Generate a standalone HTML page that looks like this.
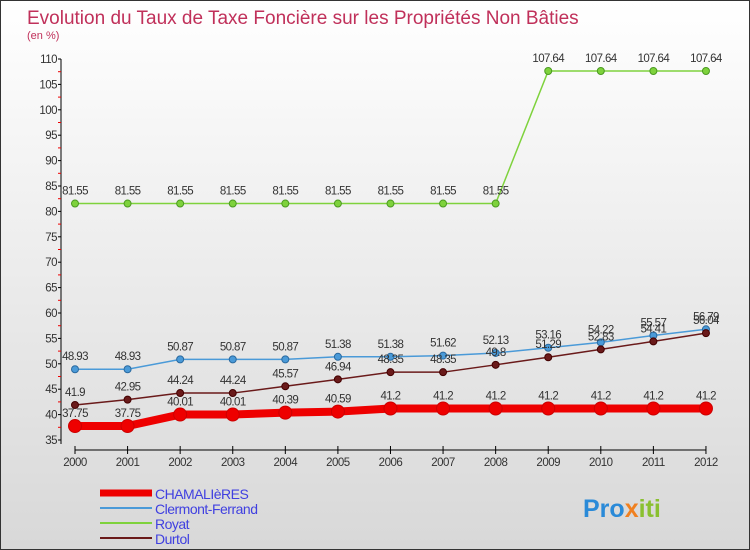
<!DOCTYPE html>
<html><head><meta charset="utf-8"><style>
body{margin:0;width:750px;height:550px;overflow:hidden;font-family:"Liberation Sans",sans-serif}
#wrap{position:absolute;left:0;top:0;width:748px;height:548px;border:1px solid #333;background:linear-gradient(#fff,#d8d8d8)}
</style></head><body>
<div id="wrap">
<svg id="chart" width="750" height="550" style="position:absolute;left:-1px;top:-1px"></svg>
</div>
<script>
const years=[2000,2001,2002,2003,2004,2005,2006,2007,2008,2009,2010,2011,2012];
const chamalieres=[37.75,37.75,40.01,40.01,40.39,40.59,41.2,41.2,41.2,41.2,41.2,41.2,41.2];
const clermont=[48.93,48.93,50.87,50.87,50.87,51.38,51.38,51.62,52.13,53.16,54.22,55.57,56.79];
const royat=[81.55,81.55,81.55,81.55,81.55,81.55,81.55,81.55,81.55,107.64,107.64,107.64,107.64];
const durtol=[41.9,42.95,44.24,44.24,45.57,46.94,48.35,48.35,49.8,51.29,52.83,54.41,56.04];
const yTicks=[35,40,45,50,55,60,65,70,75,80,85,90,95,100,105,110];
const NS="http://www.w3.org/2000/svg";
const svg=document.getElementById('chart');
const X=i=>75+i*52.58;
const Y=v=>440-(v-35)*(381/75);
function mk(t,a,p){const e=document.createElementNS(NS,t);for(const k in a)e.setAttribute(k,a[k]);(p||svg).appendChild(e);return e;}
let t=mk('text',{x:27,y:24,fill:'#c0305a','font-size':19});t.textContent='Evolution du Taux de Taxe Foncière sur les Propriétés Non Bâties';


t=mk('text',{x:27,y:39,fill:'#c0305a','font-size':11});t.textContent='(en %)';


let a=mk('line',{x1:61,y1:Y(110),x2:61,y2:Y(35)+4,stroke:'#000'});


yTicks.forEach(v=>{mk('line',{x1:58,x2:61,y1:Y(v),y2:Y(v),stroke:'#000'});
 if(v<110)mk('line',{x1:58,x2:61,y1:Y(v+2.5),y2:Y(v+2.5),stroke:'#e00'});
 const l=mk('text',{x:57,y:Y(v)+4,'text-anchor':'end','font-size':11.5,fill:'#333','letter-spacing':'-0.5'});l.textContent=v;
 
 });
a=mk('line',{x1:X(0),y1:450,x2:X(12),y2:450,stroke:'#000'});


years.forEach((y,i)=>{mk('line',{x1:X(i),x2:X(i),y1:446,y2:454,stroke:'#000'});
 const l=mk('text',{x:X(i),y:466,'text-anchor':'middle','font-size':11.5,fill:'#333','letter-spacing':'-0.5'});l.textContent=y;
 
 });
function series(d,col,w,r,name,dark){
 const g=mk('g',{});
 
 
 mk('polyline',{points:d.map((v,i)=>X(i)+','+Y(v)).join(' '),fill:'none',stroke:col,'stroke-width':w},g);
 d.forEach((v,i)=>{const c=mk('circle',{cx:X(i),cy:Y(v),r:r,fill:col,stroke:dark,'stroke-width':1},g);
  
  
  const l=mk('text',{x:X(i),y:Y(v)-9,'text-anchor':'middle','font-size':11.5,fill:'#333','letter-spacing':'-0.6'},g);l.textContent=v;
  
  });
}
series(royat,'#7ed23c',1.5,3.5,'royat','#4a9a20');
series(clermont,'#4a9ad8',1.5,3.5,'clermont-ferrand','#2a6aa0');
series(durtol,'#6a1a1a',1.5,3.5,'durtol','#400');
series(chamalieres,'#ee0000',8,6.5,'chamalieres','#c00');
const legend=[['CHAMALIèRES','#ee0000',7],['Clermont-Ferrand','#4a9ad8',2],['Royat','#7ed23c',2],['Durtol','#6a1a1a',2]];
legend.forEach((e,i)=>{const y=493+i*15;
 const g=mk('g',{});
 
 
 mk('line',{x1:100,x2:152,y1:y,y2:y,stroke:e[1],'stroke-width':e[2]},g);
 const l=mk('text',{x:155,y:y+6,'font-size':14,fill:'#4040e0','letter-spacing':'-0.5'},g);l.textContent=e[0];});
t=mk('text',{x:583,y:517,'font-size':25,'font-weight':'bold',fill:'#2a8ad8'});
t.innerHTML='<tspan fill="#2a8ad8">Pro</tspan><tspan fill="#f08020">x</tspan><tspan fill="#8ac030">iti</tspan>';


</script>
</body></html>
